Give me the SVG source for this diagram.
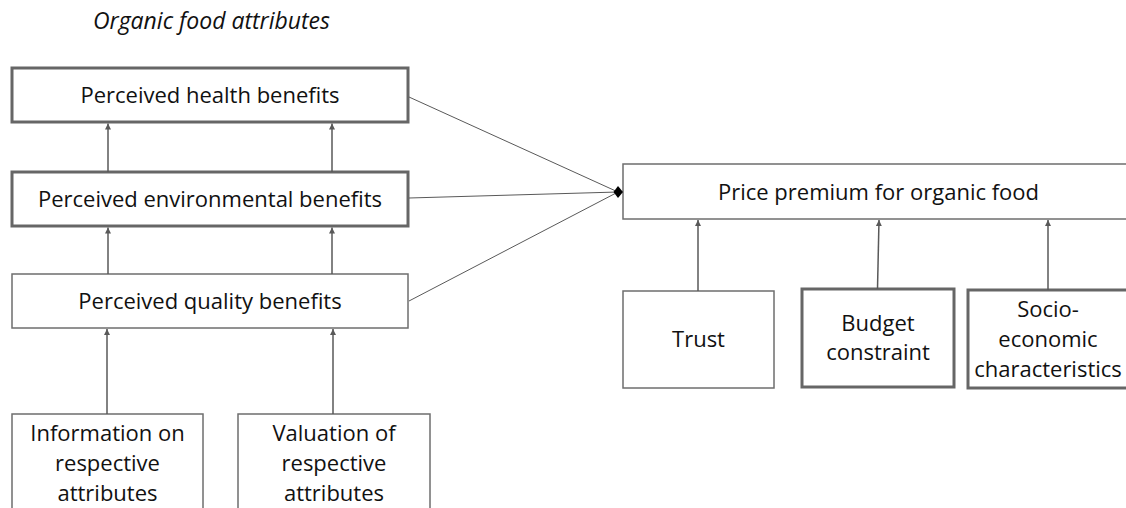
<svg xmlns="http://www.w3.org/2000/svg" width="1126" height="508" viewBox="0 0 1126 508">
<style>
.box{fill:#fff;stroke:#6e6e6e;stroke-width:1.5}
.thick{fill:#fff;stroke:#666;stroke-width:3}
.t{font-family:"Open Sans","Noto Sans",sans-serif;font-size:22px;fill:#111;text-anchor:middle}
.title{font-family:"Open Sans","Noto Sans",sans-serif;font-size:23px;font-style:italic;fill:#111}
.up{stroke:#595959;stroke-width:1.5;fill:none;marker-end:url(#ah)}
.conv{stroke:#595959;stroke-width:1;fill:none}
</style>
<defs>
<marker id="ah" viewBox="0 0 10 10" refX="10" refY="5" markerWidth="6" markerHeight="6" markerUnits="userSpaceOnUse" orient="auto">
<path d="M0,0 L10,5 L0,10 z" fill="#595959"/>
</marker>
</defs>
<text class="title" x="93" y="29">Organic food attributes</text>
<g id="health"><rect class="thick" x="12" y="68" width="396" height="54"/><text class="t" x="210" y="103">Perceived health benefits</text></g>
<g id="environmental"><rect class="thick" x="12" y="172" width="396" height="54"/><text class="t" x="210" y="207">Perceived environmental benefits</text></g>
<g id="quality"><rect class="box" x="12" y="274" width="396" height="54"/><text class="t" x="210" y="309">Perceived quality benefits</text></g>
<g id="information"><rect class="box" x="12" y="414" width="191" height="110"/><text class="t" x="107.5" y="441">Information on</text><text class="t" x="107.5" y="471">respective</text><text class="t" x="107.5" y="501">attributes</text></g>
<g id="valuation"><rect class="box" x="238" y="414" width="192" height="110"/><text class="t" x="334" y="441">Valuation of</text><text class="t" x="334" y="471">respective</text><text class="t" x="334" y="501">attributes</text></g>
<g id="price"><rect class="box" x="623" y="164" width="520" height="55"/><text class="t" x="878.5" y="200">Price premium for organic food</text></g>
<g id="trust"><rect class="box" x="623" y="291" width="151" height="97"/><text class="t" x="698.5" y="347">Trust</text></g>
<g id="budget"><rect class="thick" x="802" y="289" width="152" height="98"/><text class="t" x="878" y="331">Budget</text><text class="t" x="878" y="360">constraint</text></g>
<g id="socio"><rect class="thick" x="968" y="290" width="170" height="98"/><text class="t" x="1048" y="317">Socio-</text><text class="t" x="1048" y="347">economic</text><text class="t" x="1048" y="377">characteristics</text></g>
<g id="connectors">
<line class="up" x1="108" y1="172" x2="108" y2="123.5"/>
<line class="up" x1="332" y1="172" x2="332" y2="123.5"/>
<line class="up" x1="108" y1="274" x2="108" y2="227.5"/>
<line class="up" x1="332" y1="274" x2="332" y2="227.5"/>
<line class="up" x1="107" y1="414" x2="107" y2="329"/>
<line class="up" x1="333" y1="414" x2="333" y2="329"/>
<line class="up" x1="698" y1="291" x2="698" y2="220"/>
<line class="up" x1="877.5" y1="289" x2="879" y2="220"/>
<line class="up" x1="1048" y1="290" x2="1048" y2="220"/>
<line class="conv" x1="409" y1="97" x2="618" y2="192"/>
<line class="conv" x1="409" y1="198" x2="618" y2="192"/>
<line class="conv" x1="409" y1="301" x2="618" y2="192"/>
<path d="M613.5,192 L618,186 L623,192 L618,198 z" fill="#000"/>
</g>
</svg>
